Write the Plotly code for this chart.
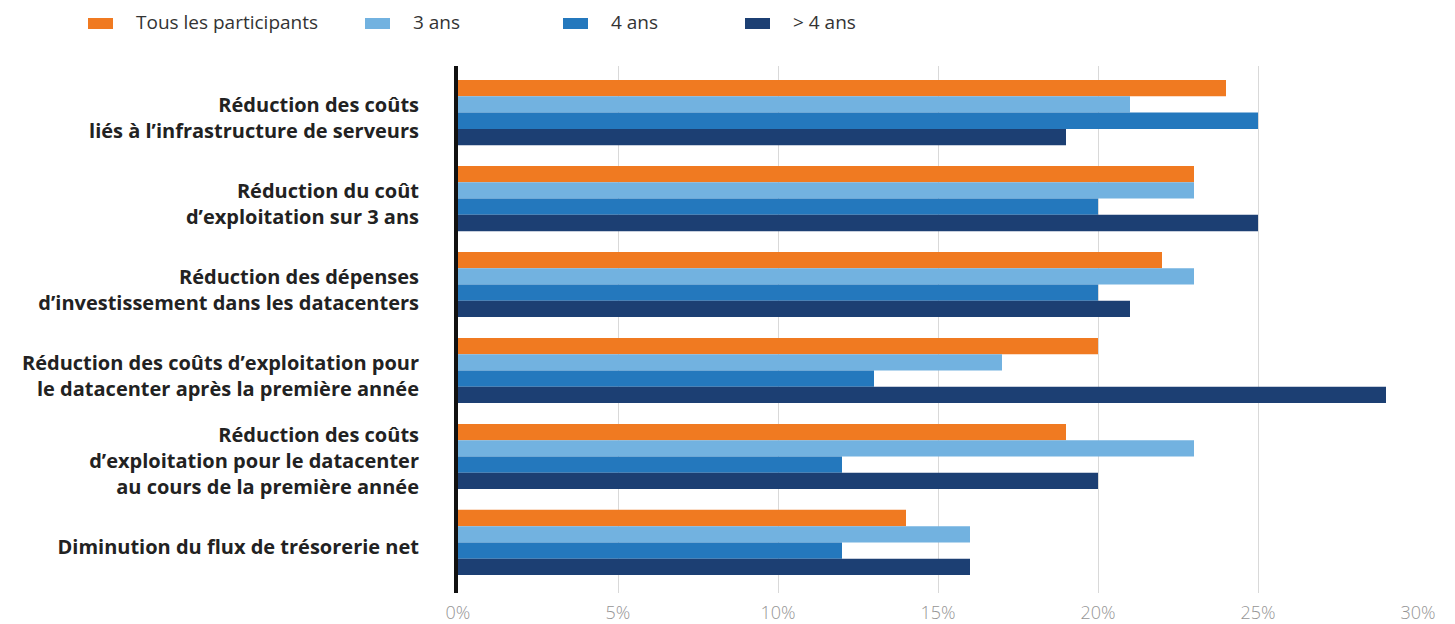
import plotly.graph_objects as go

# Benefits reported, grouped by time since migration
categories = [
    "Réduction des coûts<br>liés à l’infrastructure de serveurs",
    "Réduction du coût<br>d’exploitation sur 3 ans",
    "Réduction des dépenses<br>d’investissement dans les datacenters",
    "Réduction des coûts d’exploitation pour<br>le datacenter après la première année",
    "Réduction des coûts<br>d’exploitation pour le datacenter<br>au cours de la première année",
    "Diminution du flux de trésorerie net",
]

series_names = ["Tous les participants", "3 ans", "4 ans", "> 4 ans"]
tous = [24, 23, 22, 20, 19, 14]
ans3 = [21, 23, 23, 17, 23, 16]
ans4 = [25, 20, 20, 13, 12, 12]
plus4 = [19, 25, 21, 29, 20, 16]
series_values = [tous, ans3, ans4, plus4]
colors = ["#F07A21", "#72B2E0", "#2478BD", "#1C3F73"]

tick_vals = [0, 5, 10, 15, 20, 25, 30]
tick_text = ["0%", "5%", "10%", "15%", "20%", "25%", "30%"]

W, H = 1455, 624
ML, MR, MT, MB = 458, 37, 66, 31
PW, PH = W - ML - MR, H - MT - MB

fig = go.Figure()
for name, vals, col in zip(series_names, series_values, colors):
    fig.add_trace(go.Bar(
        name=name, x=vals, y=categories, orientation="h",
        marker=dict(color=col, line=dict(width=0)),
        showlegend=False,
    ))

# Legend drawn as wide swatches with labels along the top
legend_x = [88, 365, 563, 745]


def px_x(px):
    return (px - ML) / PW


def px_y(py):
    return (H - MB - py) / PH


for name, col, lx in zip(series_names, colors, legend_x):
    fig.add_shape(type="rect", xref="paper", yref="paper",
                  x0=px_x(lx), x1=px_x(lx + 25),
                  y0=px_y(29), y1=px_y(18),
                  fillcolor=col, line=dict(width=0))
    fig.add_annotation(xref="paper", yref="paper",
                       x=px_x(lx + 46), y=px_y(22),
                       text=name, showarrow=False, xanchor="left", yanchor="middle",
                       font=dict(family="Open Sans", size=19, color="#333333"))

fig.update_layout(
    width=W, height=H,
    barmode="group", bargap=0.242, bargroupgap=0,
    plot_bgcolor="white", paper_bgcolor="white",
    margin=dict(l=ML, r=MR, t=MT, b=MB, autoexpand=False),
    font=dict(family="Open Sans", color="#222222"),
)
fig.update_xaxes(
    range=[0, 30], tickvals=tick_vals, ticktext=tick_text,
    showgrid=True, gridcolor="#D9D9D9", gridwidth=1,
    zeroline=False, showline=False, automargin=False,
    tickfont=dict(family="Open Sans", size=18, color="#959595", weight=300),
    ticks="", ticklabelstandoff=7,
)
fig.update_yaxes(
    range=[5.588, -0.542], automargin=False,
    showline=True, linecolor="#111111", linewidth=4,
    showgrid=False, ticks="", ticklabelstandoff=31, ticklabelshift=-5,
    tickfont=dict(family="Open Sans", size=20, color="#222222", weight="bold"),
)

fig.write_html("out.html")
